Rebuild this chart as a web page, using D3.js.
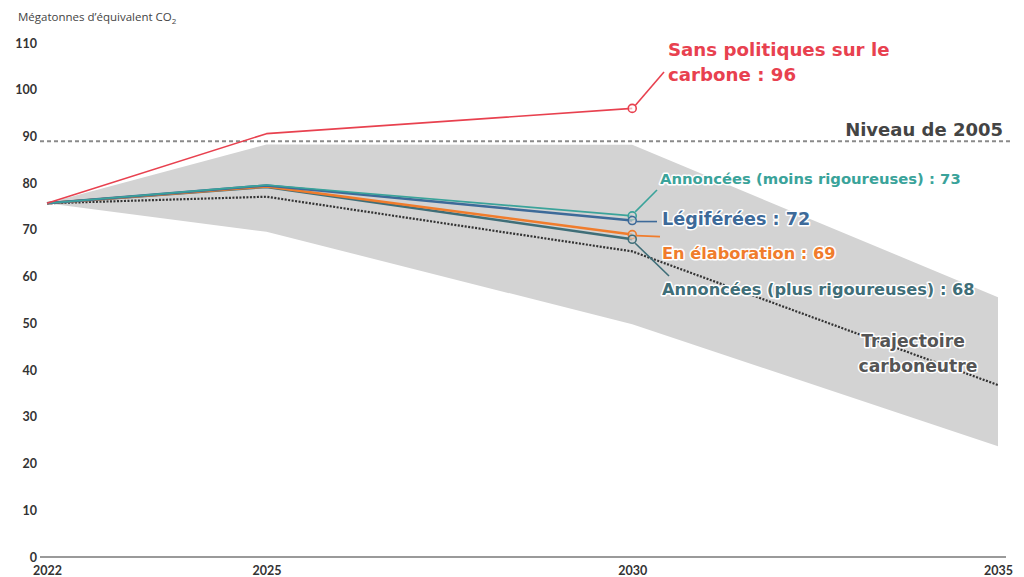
<!DOCTYPE html>
<html><head><meta charset="utf-8">
<script src="https://cdn.jsdelivr.net/npm/d3@7"></script>
<style>
html,body{margin:0;padding:0;background:#fff;}
svg{display:block;font-family:"Open Sans",sans-serif;}
</style></head>
<body><svg id="c" width="1024" height="577"></svg>
<script>
const years = [2022, 2025, 2030, 2035];
const yTicks = [0,10,20,30,40,50,60,70,80,90,100,110];
const xTicks = [2022, 2025, 2030, 2035];
const level2005 = 89;
const bandYears = [2022, 2025, 2030, 2035];
const bandTop = [75.7, 88.3, 88.2, 55.6];
const bandBottom = [75.7, 69.6, 49.8, 23.7];
const netZeroYears = [2022, 2025, 2030, 2035];
const netZero = [75.7, 77.1, 65.4, 36.8];
const scenYears = [2022, 2025, 2030];
const sansPolitiques = [75.7, 90.6, 96];
const legiferees = [75.7, 79.5, 72];
const moinsRig = [75.7, 79.6, 73];
const elaboration = [75.7, 79.3, 69];
const plusRig = [75.7, 79.2, 68];

const svg = d3.select("#c");
const x = d3.scaleLinear().domain([2022, 2035]).range([47, 998]);
const y = d3.scaleLinear().domain([0, 110]).range([557, 43]);

// axis title
svg.append("text").attr("x", 18).attr("y", 21).attr("font-size", 11.5).attr("fill", "#444")
  .html('Mégatonnes d’équivalent CO<tspan font-size="8" dy="3">2</tspan>');

// band
const bandData = bandYears.map((yr,i)=>({yr, t: bandTop[i], b: bandBottom[i]}));
svg.append("path").datum(bandData)
  .attr("d", d3.area().x(d=>x(d.yr)).y0(d=>y(d.b)).y1(d=>y(d.t)))
  .attr("fill", "#d3d3d3");

// y axis labels
const yAxis = d3.axisLeft(y).tickValues(yTicks).tickSize(0).tickPadding(0);
const gy = svg.append("g").attr("transform", "translate(37,0)").call(yAxis);
gy.select(".domain").remove();
gy.selectAll("text").attr("font-size", 12.5).attr("font-weight", 700).attr("fill", "#333")
  .attr("font-family", "Lato, sans-serif");

// x axis
const xAxis = d3.axisBottom(x).tickValues(xTicks).tickFormat(d3.format("d")).tickSize(0).tickPadding(9);
const gx = svg.append("g").attr("transform", `translate(0,${y(0)})`).call(xAxis);
gx.select(".domain").remove();
gx.selectAll("text").attr("font-size", 12.5).attr("font-weight", 700).attr("fill", "#333")
  .attr("font-family", "Lato, sans-serif");
svg.append("line").attr("x1", 40).attr("x2", 1006).attr("y1", y(0)).attr("y2", y(0))
  .attr("stroke", "#9a9a9a").attr("stroke-width", 2);

// 2005 level
svg.append("line").attr("x1", 40).attr("x2", 1010).attr("y1", y(level2005)).attr("y2", y(level2005))
  .attr("stroke", "#8a8a8a").attr("stroke-width", 2).attr("stroke-dasharray", "4,3");

const line = d3.line().x(d=>x(d[0])).y(d=>y(d[1]));
const pts = (ys, vs) => ys.map((yr,i)=>[yr, vs[i]]);

// net zero trajectory
svg.append("path").datum(pts(netZeroYears, netZero)).attr("d", line)
  .attr("fill", "none").attr("stroke", "#333").attr("stroke-width", 2.2).attr("stroke-dasharray", "2,1.5");

const series = [
  {v: plusRig, c: "#3f6e78", w: 2.5},
  {v: elaboration, c: "#f07c2c", w: 2.5},
  {v: legiferees, c: "#3d6a99", w: 2.5},
  {v: moinsRig, c: "#3aa39a", w: 1.6},
  {v: sansPolitiques, c: "#e8414f", w: 1.6},
];
series.forEach(s => {
  svg.append("path").datum(pts(scenYears, s.v)).attr("d", line)
    .attr("fill", "none").attr("stroke", s.c).attr("stroke-width", s.w).attr("stroke-linejoin", "round");
});

// leaders
function leader(x1,y1,x2,y2,c){
  svg.append("line").attr("x1",x1).attr("y1",y1).attr("x2",x2).attr("y2",y2)
    .attr("stroke",c).attr("stroke-width",1.6);
}
const cx = x(2030);
leader(cx+3, y(96)-3, 664, 72, "#e8414f");
leader(cx+3, y(73)-4, 657, 190, "#3aa39a");
leader(cx+4, y(72)+1, 657, y(72)+1, "#3d6a99");
leader(cx+4, y(69)+1, 660, y(69)+2, "#f07c2c");
leader(cx+3, y(68)+4, 669, 276, "#3f6e78");

// circles
[[96,"#e8414f"],[73,"#3aa39a"],[72,"#3d6a99"],[69,"#f07c2c"],[68,"#3f6e78"]].forEach(([v,c])=>{
  svg.append("circle").attr("cx", cx).attr("cy", y(v)).attr("r", 4)
    .attr("fill", v===96 ? "#fff" : "#d3d3d3").attr("fill-opacity", 0.6).attr("stroke", c).attr("stroke-width", 1.6);
});

// labels
function label(txt, x0, y0, c, size, anchor){
  const t = svg.append("text").attr("x", x0).attr("y", y0).attr("fill", c).attr("font-size", size)
    .attr("font-weight", 700).attr("text-anchor", anchor || "start")
    .attr("font-family", "'DejaVu Sans', sans-serif")
    .attr("stroke", "#fff").attr("stroke-width", 3).attr("paint-order", "stroke").attr("stroke-linejoin","round")
    .text(txt);
  return t;
}
label("Sans politiques sur le", 668, 56, "#e8414f", 18.2);
label("carbone : 96", 668, 81, "#e8414f", 18.2);
label("Niveau de 2005", 1003, 136, "#444", 18, "end");
label("Annoncées (moins rigoureuses) : 73", 660, 184, "#3aa39a", 14.8);
label("Légiférées : 72", 662, 225, "#3d6a99", 17.6);
label("En élaboration : 69", 662, 259, "#f07c2c", 16.2);
label("Annoncées (plus rigoureuses) : 68", 662, 295, "#3f6e78", 16.2);
label("Trajectoire", 913, 347, "#555", 17.2, "middle");
label("carboneutre", 918, 372, "#555", 17.2, "middle");
</script></body></html>
